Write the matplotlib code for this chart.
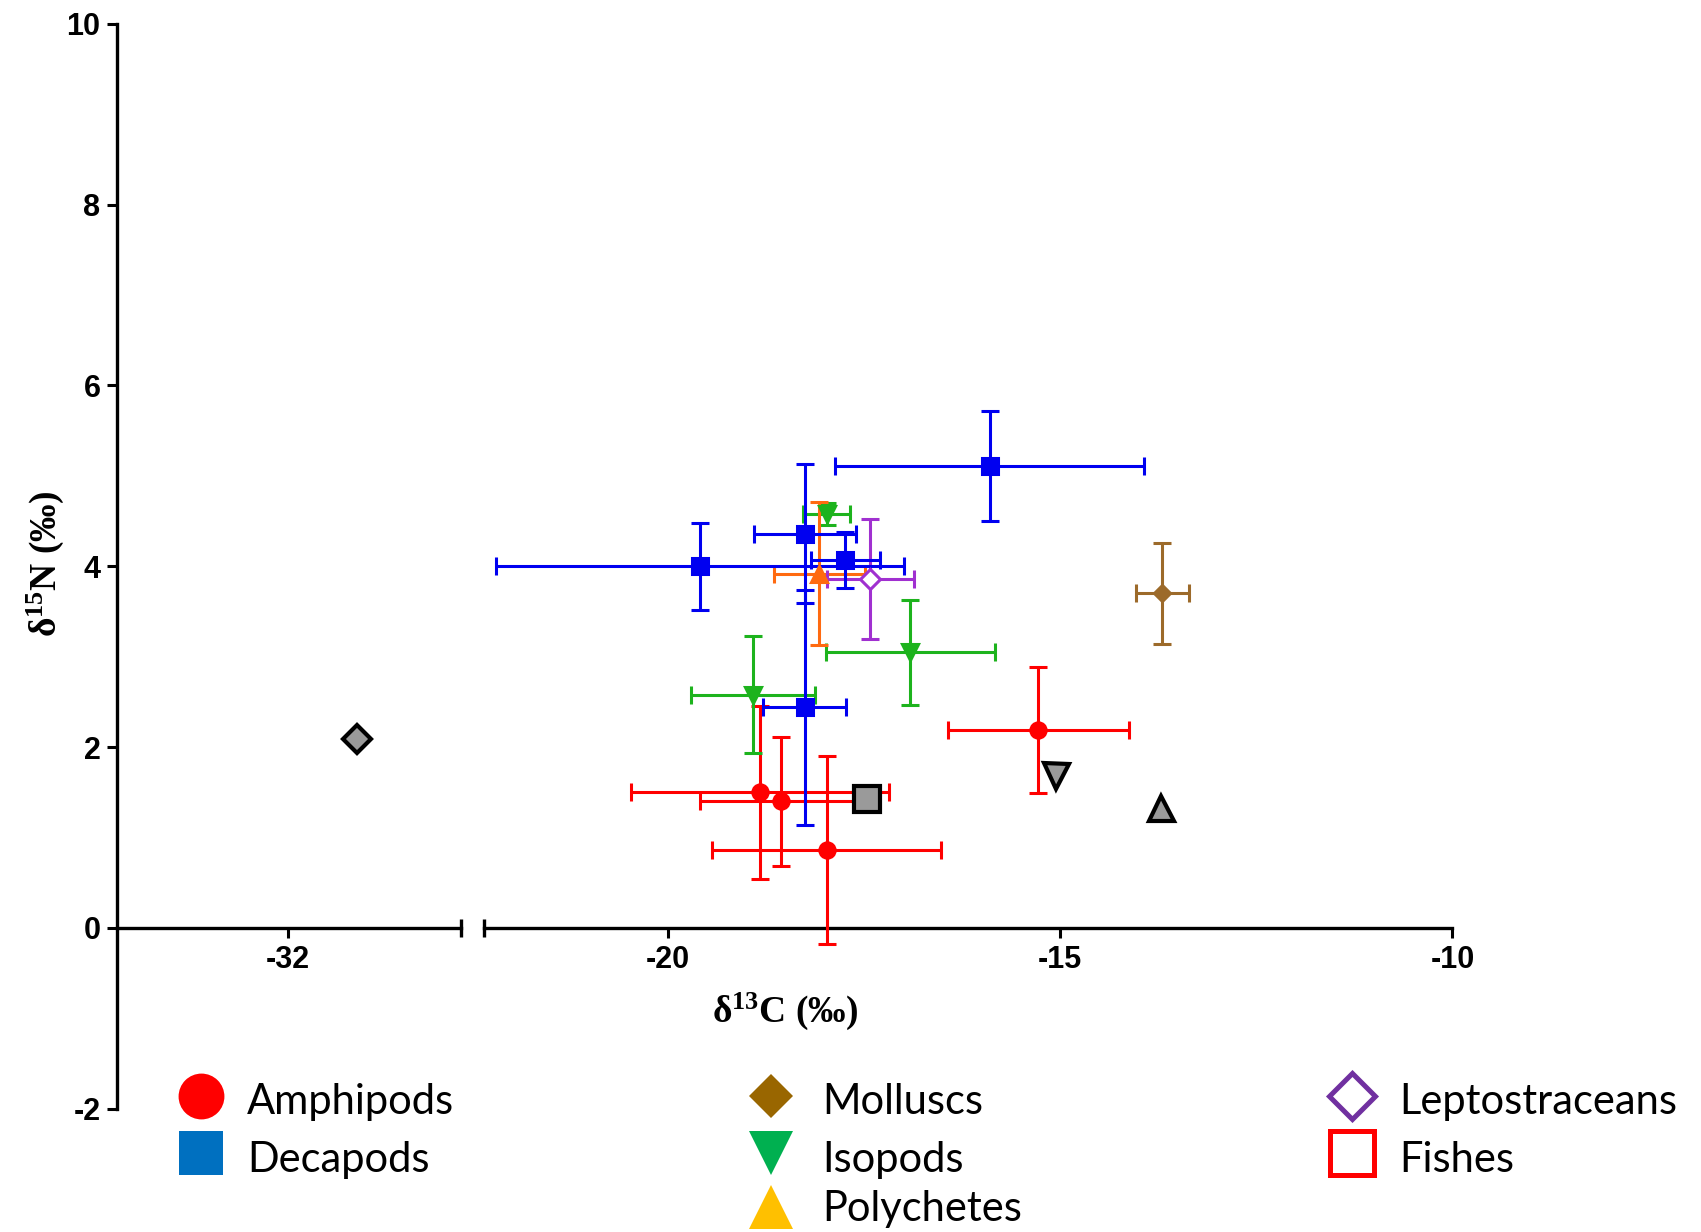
import numpy as np
import matplotlib.pyplot as plt

plt.rcParams['axes.unicode_minus'] = False
plt.rcParams['mathtext.fontset'] = 'custom'
plt.rcParams['mathtext.rm'] = 'Liberation Serif:bold'
plt.rcParams['mathtext.bf'] = 'Liberation Serif:bold'
plt.rcParams['mathtext.it'] = 'Liberation Serif:bold:italic'

# mean +- sd for each consumer group (d13C, d15N)
amph_x = [-15.28, -18.83, -18.56, -17.98]
amph_y = [2.19, 1.50, 1.40, 0.86]
amph_xerr = [1.15, 1.64, 1.03, 1.46]
amph_yerr = [0.70, 0.96, 0.71, 1.04]

deca_x = [-19.59, -18.26, -17.74, -15.90, -18.26]
deca_y = [4.00, 4.36, 4.07, 5.11, 2.44]
deca_xerr = [2.60, 0.65, 0.44, 1.97, 0.53]
deca_yerr = [0.48, 0.77, 0.31, 0.61, 1.30]

iso_x = [-17.98, -16.91, -18.92]
iso_y = [4.58, 3.05, 2.58]
iso_xerr = [0.30, 1.08, 0.79]
iso_yerr = [0.12, 0.58, 0.65]

poly_x = [-18.07]
poly_y = [3.92]
poly_xerr = [0.58]
poly_yerr = [0.79]

lepto_x = [-17.42]
lepto_y = [3.86]
lepto_xerr = [0.55]
lepto_yerr = [0.66]

moll_x = [-13.70]
moll_y = [3.70]
moll_xerr = [0.34]
moll_yerr = [0.56]

# grey symbols (no error bars)
src_x = [-31.12, -17.47, -15.05, -13.72]
src_y = [2.09, 1.43, 1.68, 1.33]
src_markers = ['D', 's', 'v', '^']
src_sizes = [14, 19, 18, 18]

legend_labels = ['Amphipods', 'Decapods', 'Molluscs', 'Isopods', 'Polychetes',
                 'Leptostraceans', 'Fishes']

groups = [
    (amph_x, amph_y, amph_xerr, amph_yerr, 'o', '#FF0000', '#FF0000', 11),
    (iso_x, iso_y, iso_xerr, iso_yerr, 'v', '#1DB31D', '#1DB31D', 11),
    (poly_x, poly_y, poly_xerr, poly_yerr, '^', '#FF6A10', '#FF6A10', 11),
    (lepto_x, lepto_y, lepto_xerr, lepto_yerr, 'D', 'white', '#A030D0', 10),
    (moll_x, moll_y, moll_xerr, moll_yerr, 'D', '#9C6A2A', '#9C6A2A', 8),
    (deca_x, deca_y, deca_xerr, deca_yerr, 's', '#0000F0', '#0000F0', 12),
]

W, H = 1701, 1232
fig = plt.figure(figsize=(W / 100, H / 100), dpi=100)

bottom, height = 0.1001, 0.8805
ax_l = fig.add_axes([0.0689, bottom, 0.2021, height])
ax_r = fig.add_axes([0.2844, bottom, 0.5695, height])

for ax in (ax_l, ax_r):
    for gx, gy, gxe, gye, mk, fc, col, ms in groups:
        ax.errorbar(gx, gy, xerr=gxe, yerr=gye, fmt=mk, color=col, mfc=fc, mec=col,
                    ms=ms, mew=2.2, elinewidth=2.2, capsize=6.5, capthick=2.2, zorder=3)
    for sx, sy, mk, ms in zip(src_x, src_y, src_markers, src_sizes):
        ax.plot(sx, sy, marker=mk, ms=ms, mfc='#9A9A9A', mec='black', mew=3,
                ls='none', zorder=5)
    ax.set_ylim(-2, 10)
    ax.spines['top'].set_visible(False)
    ax.spines['right'].set_visible(False)
    ax.spines['bottom'].set_position(('data', 0))
    ax.spines['bottom'].set_linewidth(2.4)
    ax.spines['left'].set_linewidth(2.4)
    ax.patch.set_alpha(0)
    ax.tick_params(direction='out', length=7, width=2.2, labelsize=22, pad=5)

ax_l.set_xlim(-34.18, -29.80)
ax_l.set_xticks([-32])
ax_l.set_yticks(np.arange(-2, 11, 2))

ax_r.set_xlim(-22.35, -10)
ax_r.set_xticks([-20, -15, -10])
ax_r.spines['left'].set_visible(False)
ax_r.tick_params(axis='y', left=False, labelleft=False)

for ax in (ax_l, ax_r):
    for lab in ax.get_xticklabels() + ax.get_yticklabels():
        lab.set_fontfamily('Liberation Sans')
        lab.set_fontweight('bold')

# axis break end marks
ax_l.plot([1], [0], marker='|', ms=13, mew=2.4, color='black',
          transform=ax_l.get_yaxis_transform(), clip_on=False)
ax_r.plot([0], [0], marker='|', ms=13, mew=2.4, color='black',
          transform=ax_r.get_yaxis_transform(), clip_on=False)

fig.text(0.4614, 0.1794, 'δ$^{13}$C (‰)', family='Liberation Serif', weight='bold',
         fontsize=27, ha='center', va='center')
fig.text(0.0268, 0.542, 'δ$^{15}$N (‰)', family='Liberation Serif', weight='bold',
         fontsize=27, ha='center', va='center', rotation=90)

# legend drawn in pixel coordinates
ax_leg = fig.add_axes([0, 0, 1, 1], zorder=-1)
ax_leg.set_xlim(0, W)
ax_leg.set_ylim(H, 0)
ax_leg.axis('off')

leg_markers = ['o', 's', 'D', 'v', '^', 'D', 's']
leg_face = ['#FF0000', '#0070C0', '#996600', '#00B050', '#FFC000', 'white', 'white']
leg_edge = ['#FF0000', '#0070C0', '#996600', '#00B050', '#FFC000', '#7030A0', '#FF0000']
leg_ms = [33, 31, 22, 32, 32, 23, 31]
leg_mew = [0, 0, 0, 0, 0, 3.6, 3.6]
leg_col = [0, 0, 1, 1, 1, 2, 2]
leg_row = [0, 1, 0, 1, 2, 0, 1]
col_marker_x = [201, 771, 1352]
col_text_x = [247, 822, 1399]
row_marker_y = [1096, 1153, 1207]
row_base_y = [1114, 1172, 1221]

for lab, mk, fc, ec, ms, mw, c, r in zip(legend_labels, leg_markers, leg_face, leg_edge,
                                         leg_ms, leg_mew, leg_col, leg_row):
    ax_leg.plot(col_marker_x[c], row_marker_y[r], marker=mk, ms=ms, mfc=fc, mec=ec,
                mew=mw, ls='none', clip_on=False)
    ax_leg.text(col_text_x[c], row_base_y[r], lab, family='Lato', fontsize=30,
                ha='left', va='baseline')

fig.savefig('out.png', dpi=100)
